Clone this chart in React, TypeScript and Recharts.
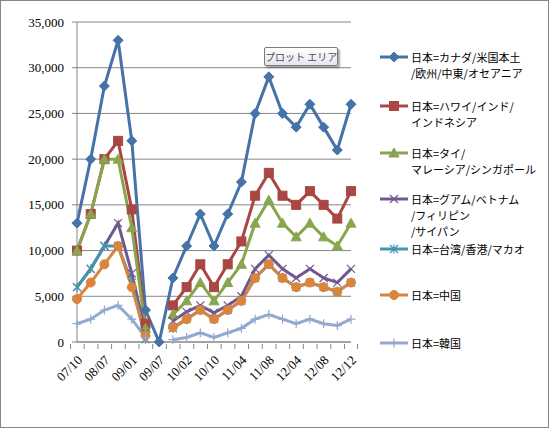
import React from "react";
import { LineChart, Line, XAxis, YAxis, CartesianGrid, Legend } from "recharts";

const categories = ["07/10", "08/01", "08/07", "08/10", "09/01", "09/04", "09/07", "09/10", "10/02", "10/07", "10/10", "11/01", "11/04", "11/07", "11/08", "11/10", "12/04", "12/07", "12/08", "12/10", "12/12"];
const labeledTicks = ["07/10", "08/07", "09/01", "09/07", "10/02", "10/10", "11/04", "11/08", "12/04", "12/08", "12/12"];
const yTicks = [0, 5000, 10000, 15000, 20000, 25000, 30000, 35000];

const canadaUS = [13000, 20000, 28000, 33000, 22000, 3500, 0, 7000, 10500, 14000, 10500, 14000, 17500, 25000, 29000, 25000, 23500, 26000, 23500, 21000, 26000];
const hawaii = [10000, 14000, 20000, 22000, 14500, 2000, null, 4000, 6000, 8500, 6000, 8500, 11000, 16000, 18500, 16000, 15000, 16500, 15000, 13500, 16500];
const thai = [10000, 14000, 20000, 20000, 12500, 1500, null, 3000, 4500, 6500, 4500, 6500, 8500, 13000, 15500, 13000, 11500, 13000, 11500, 10500, 13000];
const guam = [6000, 8000, 10500, 13000, 7500, 1000, null, 2300, 3300, 4000, 3200, 4000, 5000, 8000, 9500, 8000, 7000, 8000, 7000, 6500, 8000];
const taiwan = [6000, 8000, 10500, 10500, 6500, 300, null, 1500, 2500, 3500, 2500, 3500, 4500, 7000, 8500, 7000, 6000, 6500, 6000, 5500, 6500];
const china = [4700, 6500, 8500, 10500, 6000, 700, null, 1600, 2500, 3500, 2500, 3500, 4500, 7000, 8500, 7000, 6000, 6500, 6000, 5500, 6500];
const korea = [2000, 2500, 3500, 4000, 2500, 500, null, 250, 500, 1000, 500, 1000, 1500, 2500, 3000, 2500, 2000, 2500, 2000, 1800, 2500];

const data = categories.map((c, i) => ({
  cat: c,
  canadaUS: canadaUS[i],
  hawaii: hawaii[i],
  thai: thai[i],
  guam: guam[i],
  taiwan: taiwan[i],
  china: china[i],
  korea: korea[i],
}));

const SERIF = "'Liberation Serif', 'Times New Roman', 'DejaVu Serif', serif";

type MarkerKind = "diamond" | "square" | "triangle" | "x" | "star" | "circle" | "plus";

function marker(kind: MarkerKind, cx: number, cy: number, color: string, key?: any) {
  switch (kind) {
    case "diamond": {
      const r = 5;
      return <path key={key} d={`M${cx},${cy - r}L${cx + r},${cy}L${cx},${cy + r}L${cx - r},${cy}Z`} fill={color} stroke={color} strokeWidth={1} />;
    }
    case "square": {
      const r = 4.5;
      return <rect key={key} x={cx - r} y={cy - r} width={2 * r} height={2 * r} fill={color} stroke={color} strokeWidth={1} />;
    }
    case "triangle": {
      const r = 5;
      return <path key={key} d={`M${cx},${cy - r}L${cx + r},${cy + r * 0.8}L${cx - r},${cy + r * 0.8}Z`} fill={color} stroke={color} strokeWidth={1} />;
    }
    case "x": {
      const r = 4;
      return <path key={key} d={`M${cx - r},${cy - r}L${cx + r},${cy + r}M${cx - r},${cy + r}L${cx + r},${cy - r}`} stroke={color} strokeWidth={1.2} fill="none" />;
    }
    case "star": {
      const r = 4;
      return <path key={key} d={`M${cx - r},${cy - r}L${cx + r},${cy + r}M${cx - r},${cy + r}L${cx + r},${cy - r}M${cx},${cy - r - 0.5}L${cx},${cy + r + 0.5}`} stroke={color} strokeWidth={1.2} fill="none" />;
    }
    case "circle":
      return <circle key={key} cx={cx} cy={cy} r={4.5} fill={color} stroke={color} strokeWidth={1} />;
    case "plus": {
      const r = 4.5;
      return <path key={key} d={`M${cx},${cy - r}L${cx},${cy + r}M${cx - r},${cy}L${cx + r},${cy}`} stroke={color} strokeWidth={1.2} fill="none" />;
    }
  }
}

const makeDot = (kind: MarkerKind, color: string) => (props: any) => {
  const { cx, cy, index } = props;
  if (cx == null || cy == null || props.value == null) return <g key={`e${index}`} />;
  return marker(kind, cx, cy, color, `d${index}`);
};

const seriesDefs = [
  { key: "canadaUS", color: "#4572A7", kind: "diamond" as MarkerKind, lines: ["日本=カナダ/米国本土", "/欧州/中東/オセアニア"], y: 57 },
  { key: "hawaii", color: "#AA4643", kind: "square" as MarkerKind, lines: ["日本=ハワイ/インド/", "インドネシア"], y: 106 },
  { key: "thai", color: "#89A54E", kind: "triangle" as MarkerKind, lines: ["日本=タイ/", "マレーシア/シンガポール"], y: 153 },
  { key: "guam", color: "#71588F", kind: "x" as MarkerKind, lines: ["日本=グアム/ベトナム", "/フィリピン", "/サイパン"], y: 199 },
  { key: "taiwan", color: "#4198AF", kind: "star" as MarkerKind, lines: ["日本=台湾/香港/マカオ"], y: 249 },
  { key: "china", color: "#DB843D", kind: "circle" as MarkerKind, lines: ["日本=中国"], y: 295 },
  { key: "korea", color: "#93A9CF", kind: "plus" as MarkerKind, lines: ["日本=韓国"], y: 343 },
];

const BAND = (351 - 77) / categories.length;

const XTick = (props: any) => {
  const { x, y, payload, index } = props;
  const show = labeledTicks.includes(payload.value);
  const left = x - BAND / 2;
  const ax = x + 6;
  const ay = y + 17;
  return (
    <g>
      <line x1={left} y1={y} x2={left} y2={y + 5} stroke="#868686" />
      {index === categories.length - 1 && <line x1={x + BAND / 2} y1={y} x2={x + BAND / 2} y2={y + 5} stroke="#868686" />}
      {show && (
        <text
          x={ax}
          y={ay}
          textAnchor="end"
          transform={`rotate(-45 ${ax} ${ay})`}
          style={{ fontFamily: SERIF, fontSize: 13 }}
          fill="#000"
        >
          {payload.value}
        </text>
      )}
    </g>
  );
};

const YTick = (props: any) => {
  const { x, y, payload } = props;
  return (
    <text x={x} y={y} dy={4.5} textAnchor="end" style={{ fontFamily: SERIF, fontSize: 13 }} fill="#000">
      {Number(payload.value).toLocaleString("en-US")}
    </text>
  );
};

const LegendContent = () => (
  <div style={{ position: "relative", width: 170, height: 428 }}>
    {seriesDefs.map((s) => (
      <div key={s.key} style={{ position: "absolute", left: 0, top: s.y - 8 }}>
        <svg width={32} height={16} style={{ position: "absolute", left: 0, top: 0 }}>
          <line x1={2} y1={8} x2={30} y2={8} stroke={s.color} strokeWidth={3} />
          {marker(s.kind, 16, 8, s.color)}
        </svg>
        {s.lines.map((l, i) => (
          <div
            key={i}
            style={{
              position: "absolute",
              left: 33,
              top: i * 16 + 2,
              height: 12,
              whiteSpace: "nowrap",
              fontFamily: "'Noto Sans CJK JP', sans-serif",
              fontSize: 11,
              lineHeight: "12px",
              color: "#000",
            }}
          >
            {l}
          </div>
        ))}
      </div>
    ))}
  </div>
);

export default function App() {
  return (
    <div style={{ position: "absolute", left: 0, top: 0, width: 549, height: 428, background: "#fff" }}>
      <LineChart width={549} height={428} data={data} margin={{ top: 22, right: 198, bottom: 0, left: 0 }}>
        <CartesianGrid vertical={false} stroke="#868686" strokeDasharray="" />
        <XAxis
          dataKey="cat"
          interval={0}
          height={86}
          tickSize={0}
          tickLine={false}
          axisLine={{ stroke: "#868686" }}
          tick={<XTick />}
        />
        <YAxis
          width={77}
          domain={[0, 35000]}
          ticks={yTicks}
          interval={0}
          tickSize={5}
          tickMargin={8}
          tickLine={{ stroke: "#868686" }}
          axisLine={{ stroke: "#868686" }}
          tick={<YTick />}
        />
        <Legend
          layout="vertical"
          align="center"
          verticalAlign="middle"
          content={<LegendContent />}
          wrapperStyle={{ left: 378, top: 0, width: 170, height: 428 }}
        />
        {seriesDefs.map((s) => (
          <Line
            key={s.key}
            type="linear"
            dataKey={s.key}
            stroke={s.color}
            strokeWidth={3}
            dot={makeDot(s.kind, s.color)}
            activeDot={false}
            connectNulls={false}
            isAnimationActive={false}
          />
        ))}
      </LineChart>
      <div
        style={{
          position: "absolute",
          left: 264,
          top: 47,
          width: 72,
          height: 17,
          border: "1px solid #7a7a7a",
          borderRadius: 2,
          background: "linear-gradient(#ffffff, #e4e5f0)",
          boxShadow: "2px 2px 2px rgba(0,0,0,0.35)",
          fontFamily: "'Noto Sans CJK JP', sans-serif",
          fontSize: 10,
          lineHeight: "17px",
          color: "#4c4c4c",
          textAlign: "center",
          whiteSpace: "nowrap",
        }}
      >
        プロット エリア
      </div>
      <div
        style={{
          position: "absolute",
          left: 0,
          top: 0,
          width: 549,
          height: 428,
          boxSizing: "border-box",
          border: "1px solid #868686",
          pointerEvents: "none",
        }}
      />
    </div>
  );
}
